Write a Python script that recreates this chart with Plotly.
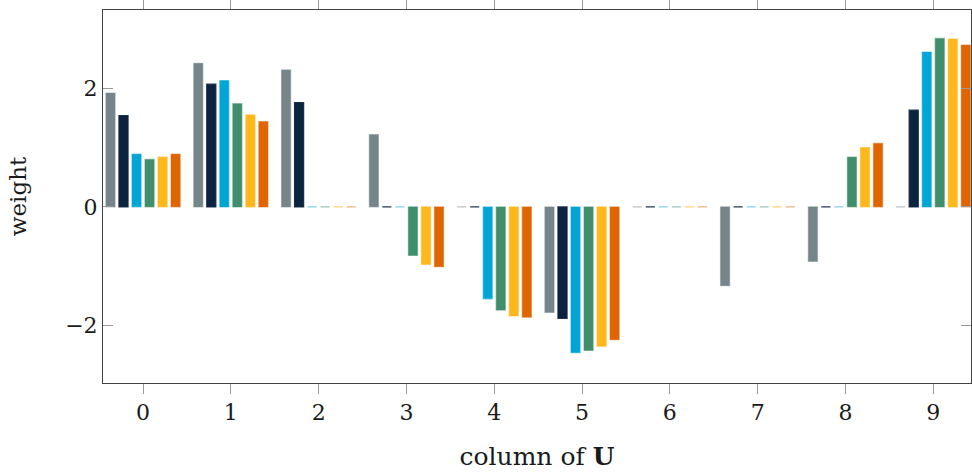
import plotly.graph_objects as go

categories = [0, 1, 2, 3, 4, 5, 6, 7, 8, 9]
series_names = ["s1", "s2", "s3", "s4", "s5", "s6"]
s1 = [1.92, 2.42, 2.31, 1.22, 0.0, -1.78, 0.0, -1.33, -0.92, 0.0]
s2 = [1.54, 2.07, 1.76, 0.0, 0.0, -1.88, 0.0, 0.0, 0.0, 1.63]
s3 = [0.89, 2.13, 0.0, 0.0, -1.55, -2.46, 0.0, 0.0, 0.0, 2.61]
s4 = [0.80, 1.74, 0.0, -0.82, -1.74, -2.42, 0.0, 0.0, 0.84, 2.84]
s5 = [0.84, 1.55, 0.0, -0.97, -1.84, -2.35, 0.0, 0.0, 1.00, 2.83]
s6 = [0.89, 1.44, 0.0, -1.01, -1.86, -2.24, 0.0, 0.0, 1.07, 2.73]
y_ticks = [-2, 0, 2]
y_tick_labels = ["\u22122", "0", "2"]

colors = ["#76858a", "#0c2340", "#00a6d6", "#408e6b", "#ffb81c", "#de6500"]
edge = ["rgba(118,133,138,0.5)", "rgba(12,35,64,0.9)", "rgba(0,166,214,0.5)",
        "rgba(64,142,107,0.5)", "rgba(255,184,28,0.6)", "rgba(222,101,0,0.5)"]

fig = go.Figure()
for name, vals, c, e in zip(series_names, [s1, s2, s3, s4, s5, s6], colors, edge):
    fig.add_trace(go.Bar(x=categories, y=vals, name=name,
                         marker=dict(color=c, line=dict(color=e, width=1.2))))

font_family = "DejaVu Serif, Liberation Serif, serif"
fig.update_layout(
    width=972, height=474,
    margin=dict(l=103, r=1, t=10, b=91),
    barmode="group", bargap=0.11, bargroupgap=0.3,
    showlegend=False,
    plot_bgcolor="white", paper_bgcolor="white",
    font=dict(family=font_family, size=22, color="#1a1a1a"),
)
fig.update_xaxes(
    range=[-0.456, 9.43], tickmode="array", tickvals=categories,
    ticktext=[str(c) for c in categories],
    showline=True, linecolor="#444", linewidth=1, mirror="ticks",
    ticks="outside", ticklen=10, tickcolor="#999", tickwidth=1,
    showgrid=False, zeroline=False, automargin=False,
    title=dict(text="column of <b>U</b>", standoff=23, font=dict(size=25)),
)
fig.update_yaxes(
    range=[-2.97, 3.32], tickmode="array", tickvals=y_ticks, ticktext=y_tick_labels,
    showline=True, linecolor="#444", linewidth=1, mirror="ticks",
    ticks="inside", ticklen=10, tickcolor="#999", tickwidth=1,
    showgrid=False, zeroline=False, automargin=False,
    title=dict(text="weight", standoff=32, font=dict(size=23)),
)
fig.write_html("out.html", config={"displayModeBar": False},
               post_script="document.body.style.margin='0';")
